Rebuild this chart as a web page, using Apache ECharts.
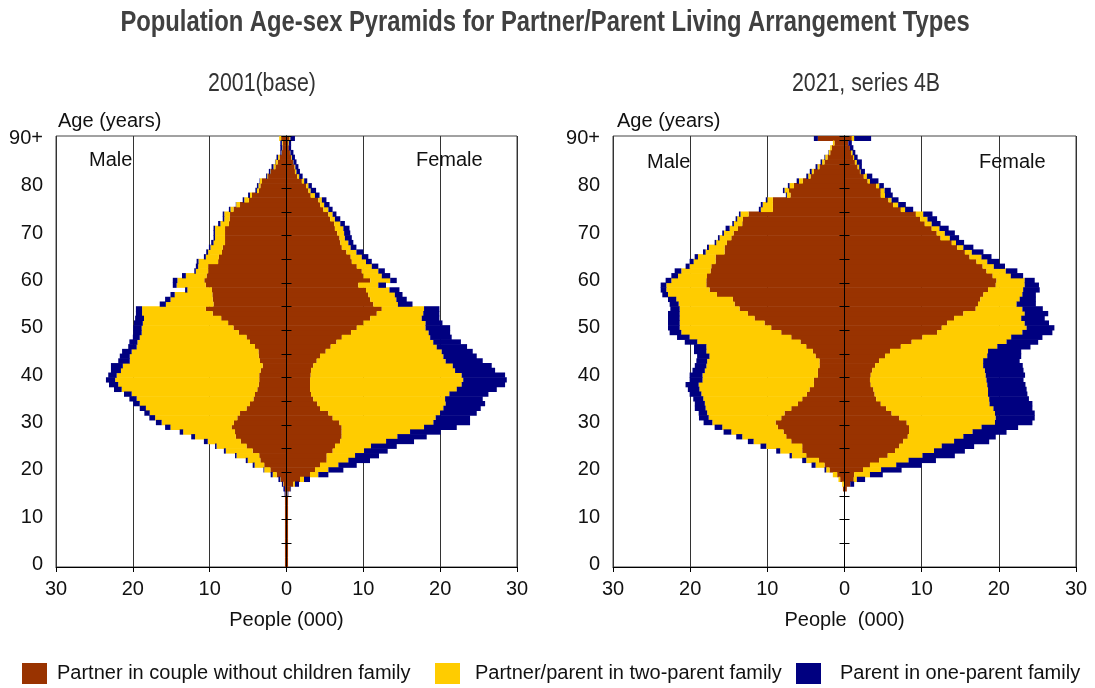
<!DOCTYPE html>
<html><head><meta charset="utf-8">
<script src="https://cdn.jsdelivr.net/npm/echarts@6/dist/echarts.min.js"></script>
<style>html,body{margin:0;padding:0;background:#fff}#c{width:1095px;height:688px}</style>
</head><body><div id="c"></div>
<script>
// ages 0..89, 90+
const ages = [];
for (let a = 0; a <= 90; a++) ages.push(a === 90 ? '90+' : String(a));
const seriesNames = ['Partner in couple without children family','Partner/parent in two-parent family','Parent in one-parent family'];
const colors = ['#993300','#FFCC00','#000080'];
const xTicks = [-30,-20,-10,0,10,20,30];

// 2001 (base) - Male, values in thousands, index = age
const m01Couple = [0.2,0.2,0.2,0.2,0.2,0.2,0.2,0.2,0.2,0.2,0.2,0.2,0.2,0.2,0.2,
 0.15,0.2,0.4,0.75,1.28,2.1,2.9,3.4,3.55,4.4,5.2,5.95,6.6,6.7,7.15,
 6.85,6.4,6.05,5.2,4.75,4.3,4.1,3.8,3.6,3.55,3.55,3.35,3.1,3.45,3.6,
 3.65,4.1,4.75,5.2,6.2,6.9,7.6,8.5,9.6,10.5,9.5,9.6,9.65,9.7,10.5,
 10.7,10.4,10.2,10.2,8.9,8.8,8.4,8.3,8.0,8.0,8.0,8.0,7.5,7.4,7.35,
 6.9,6.05,4.9,4.5,3.6,3.4,3.2,2.4,2.05,1.45,1.15,0.9,0.6,0.5,0.5,0.7];
const m01Two = [0,0,0,0,0,0,0,0,0,0,0,0,0,0,0,
 0,0,0.05,0.05,0.52,0.8,1.25,1.65,2.95,3.5,3.9,4.3,5.3,6.75,7.95,
 9.4,10.7,11.75,13.1,14.35,15.2,16.05,17.65,18.3,18.75,18.55,18.2,18.2,16.95,16.8,
 16.5,15.4,14.65,13.9,12.65,11.95,11.1,10.05,9.2,8.3,6.2,5.5,4.9,3.2,3.8,
 3.5,2.7,1.6,1.3,2.55,1.7,1.8,1.6,1.5,1.3,1.3,1.3,1.1,0.7,0.75,
 0.4,0.5,0.6,0.25,0.25,0.25,0.25,0.1,0.05,0.25,0.3,0.2,0.05,0.05,0.1,0.25];
const m01One = [0,0,0,0,0,0,0,0,0,0,0,0,0,0,0,
 0.1,0.2,0.15,0.25,0.26,0.1,0.25,0.25,0.2,0.25,0.2,0.5,0.5,0.45,0.7,
 0.75,0.75,0.7,0.8,0.85,0.95,1.0,1.0,1.2,1.2,1.1,1.3,1.55,1.5,1.3,
 1.25,1.1,1.05,0.9,1.1,1.1,1.15,1.15,0.8,0.8,0.8,0.7,0.55,0.3,0.5,
 0.6,0.5,0.2,0.3,0.25,0.25,0.25,0.2,0.3,0.2,0.2,0.2,0.3,0.2,0.2,
 0.2,0.05,0.2,0.25,0.2,0.2,0.05,0.15,0.2,0.25,0.05,0.2,0.15,0.25,0.2,0];

// 2001 (base) - Female
const f01Couple = [0.2,0.2,0.2,0.2,0.2,0.2,0.2,0.2,0.2,0.2,0.2,0.2,0.2,0.2,0.2,
 0.11,0.46,0.89,1.76,3.06,3.71,4.36,5.23,5.23,6.01,6.32,6.97,7.18,7.18,7.18,
 6.88,6.01,5.45,4.36,4.01,3.49,3.19,3.06,3.06,3.06,3.15,3.19,3.49,3.93,4.36,
 5.1,5.75,6.5,7.2,8.4,9.15,10.0,10.9,11.75,12.4,11.3,10.9,10.65,10.35,9.35,
 10.9,10.0,9.8,9.15,8.5,8.35,7.8,7.2,7.0,6.9,6.6,6.3,6.2,5.7,5.45,
 4.8,4.4,4.15,3.15,2.85,2.55,2.0,1.4,1.1,1.05,0.85,0.6,0.45,0.3,0.2,0.4];
const f01Two = [0,0,0,0,0,0,0,0,0,0,0,0,0,0,0,
 0.04,0.04,0.21,0.52,1.08,1.74,2.39,2.82,3.69,4.08,4.68,5.99,7.25,8.9,10.72,
 12.24,13.41,14.54,16.06,16.71,17.15,18.01,19.1,19.74,19.94,19.65,18.75,18.15,16.79,16.06,
 15.1,13.8,12.6,11.5,10.1,8.95,8.1,6.7,6.05,5.5,3.2,3.4,3.45,3.05,2.6,
 2.6,2.4,2.15,1.95,1.85,1.45,1.3,1.15,1.05,0.7,0.9,1.1,0.8,0.6,0.55,
 0.65,0.5,0.45,0.55,0.3,0.3,0.3,0.25,0.2,0.1,0.05,0.1,0.05,0,0.1,0.1];
const f01One = [0,0,0,0,0,0,0,0,0,0,0,0,0,0,0,
 0.09,0.09,0.53,0.78,1.31,1.95,2.39,2.82,3.12,3.08,3.35,3.64,3.82,3.99,4.26,
 4.77,4.47,4.77,4.86,5.13,4.9,5.08,5.21,5.65,5.67,5.65,5.21,5.07,4.82,4.34,
 4.04,3.95,3.6,2.8,2.8,3.2,2.2,2.3,2.1,2.0,1.9,1.35,1.0,1.3,1.0,
 0.85,1.1,0.85,0.85,0.75,0.85,0.9,0.75,0.65,0.9,0.8,0.8,0.6,0.7,0.5,
 0.55,0.7,0.6,0.6,0.7,0.45,0.4,0.45,0.45,0.4,0.4,0.4,0.4,0.3,0.3,0.6];

// 2021, series 4B - Male
const m21Couple = [0,0,0,0,0,0,0,0,0,0,0,0,0,0,0,
 0,0.2,0.09,0.56,0.95,1.94,2.59,3.32,4.96,5.48,5.48,6.9,7.55,7.9,8.63,
 8.93,8.2,7.77,6.9,6.04,5.48,4.88,4.53,3.97,3.97,3.45,3.45,3.24,3.24,3.75,
 4.1,4.96,5.7,6.9,8.2,9.5,10.36,11.65,12.52,13.6,14.24,14.46,16.53,17.48,17.91,
 17.91,17.82,17.35,17.26,16.7,16.7,15.54,15.54,15.24,14.67,14.37,13.81,13.25,13.16,12.43,
 9.28,9.28,9.28,7.0,7.2,6.56,5.4,4.4,4.0,3.25,2.6,2.2,1.85,1.65,1.3,3.45];
const m21Two = [0,0,0,0,0,0,0,0,0,0,0,0,0,0,0,
 0,0,0.21,0.22,0.56,0.43,1.16,1.64,1.86,2.85,4.66,4.88,5.7,6.77,7.21,
 8.2,9.4,10.03,11.1,12.06,12.82,13.67,14.27,14.93,14.43,14.95,14.65,14.66,14.56,13.75,
 13.8,12.94,13.38,13.17,12.95,11.86,11.0,9.71,8.84,7.76,7.25,7.34,6.34,5.61,5.18,
 4.53,3.76,3.8,2.81,2.85,2.29,2.46,2.03,1.38,1.51,1.25,1.08,1.08,0.74,1.04,
 1.57,1.32,0.72,0.47,0.57,0.56,0.5,0.3,0.25,0.25,0.3,0.3,0.2,0.2,0.2,0];
const m21One = [0,0,0,0,0,0,0,0,0,0,0,0,0,0,0,
 0,0,0,0,0,0.22,0.52,0.52,0.3,0.52,0.74,0.74,0.78,1.0,0.99,
 1.13,1.26,1.1,1.4,1.3,1.3,1.52,1.5,1.7,1.67,1.67,1.6,1.5,1.4,1.6,
 1.6,1.6,1.62,1.63,1.51,1.51,1.51,1.51,1.51,1.21,1.17,1.07,0.74,0.73,0.73,
 0.74,0.86,0.86,0.52,0.52,0.43,0.34,0.25,0.21,0.22,0.22,0.52,0.21,0.21,0.21,
 0.25,0.25,0.2,0.13,0.21,0.22,0.3,0.25,0.25,0.25,0.2,0.1,0.05,0,0,0.52];

// 2021, series 4B - Female
const f21Couple = [0,0,0,0,0,0,0,0,0,0,0,0,0,0,0,
 0,0.3,0.75,1.2,1.25,2.4,3.3,4.5,5.6,6.55,7.1,7.6,8.2,8.36,8.36,
 8.06,7.1,6.1,5.4,4.7,4.1,3.9,3.75,3.4,3.3,3.4,3.6,3.97,4.48,5.26,
 5.9,7.3,8.7,10.1,12.0,12.6,13.3,14.2,15.4,17.0,17.3,17.6,18.0,18.6,19.6,
 19.7,19.2,18.4,17.9,17.1,16.2,15.6,14.6,13.9,12.45,11.95,11.3,10.4,9.8,9.25,
 7.3,6.3,5.7,4.7,4.7,4.1,3.0,2.5,2.0,1.7,1.35,1.1,0.85,0.7,0.5,0.95];
const f21Two = [0,0,0,0,0,0,0,0,0,0,0,0,0,0,0,
 0,0,0,0.4,2.05,2.34,3.4,3.8,4.5,5.05,5.5,6.6,7.2,8.24,9.4,
 11.44,12.5,13.4,13.9,14.1,14.65,14.7,14.85,15.1,15.1,14.9,14.6,14.0,13.49,13.24,
 12.7,12.5,12.3,11.5,11.05,11.0,10.05,8.7,7.95,6.05,5.0,5.1,5.05,4.55,3.75,
 3.65,2.35,2.5,1.45,1.4,1.55,0.9,0.8,0.55,1.2,1.05,1.0,0.9,0.95,0.95,
 0.55,0.65,0.4,0.55,0.5,0.4,0.3,0.4,0.1,0.2,0.25,0.15,0.2,0,0,0.3];
const f21One = [0,0,0,0,0,0,0,0,0,0,0,0,0,0,0,
 0,0,0.5,1.07,1.66,2.66,3.3,3.55,4.2,4.0,4.2,4.55,4.2,4.4,4.74,
 4.85,5.05,5.15,5.05,5.55,5.15,5.1,5.0,4.95,4.8,5.1,5.0,5.13,4.73,4.4,
 4.3,4.3,4.1,4.05,3.89,3.6,3.15,3.05,3.05,2.65,2.5,2.1,1.75,2.15,1.85,
 1.3,1.6,1.5,1.45,1.55,1.3,1.5,1.3,1.05,1.2,1.3,1.2,1.15,1.25,1.2,
 1.05,1.0,0.9,1.0,0.8,0.6,1.1,0.7,0.55,0.35,0.65,0.45,0.35,0.45,0.45,2.2];

const FONT = '"Liberation Sans", Arial, sans-serif';

const grids = [
  {left: 56, top: 136, width: 461, height: 431},
  {left: 613, top: 136, width: 463, height: 431}
];

function xAxisFor(g, name) {
  return {
    type: 'value', gridIndex: g, min: xTicks[0], max: xTicks[xTicks.length-1], interval: 10,
    name: name, nameLocation: 'middle', nameGap: 43,
    nameTextStyle: {fontFamily: FONT, fontSize: 20, color: '#111'},
    axisLine: {show: true, onZero: false, lineStyle: {color: '#000', width: 1}},
    axisTick: {show: true, length: 5, lineStyle: {color: '#000'}},
    axisLabel: {fontFamily: FONT, fontSize: 20, color: '#111', margin: 12,
      formatter: v => String(Math.abs(v))},
    splitLine: {show: true, lineStyle: {color: '#333', width: 1}}
  };
}
function yAxesFor(g) {
  return [
    {type: 'category', gridIndex: g, data: ages, boundaryGap: true, position: 'left',
     axisLine: {show: false, onZero: false}, axisTick: {show: false},
     axisLabel: {interval: 9, fontFamily: FONT, fontSize: 20, color: '#111', margin: 13},
     splitLine: {show: false}},
    {type: 'category', gridIndex: g, data: ages, boundaryGap: true, z: 6, position: 'left',
     axisLine: {show: true, onZero: true, onZeroAxisIndex: g, lineStyle: {color: '#000', width: 1}},
     axisTick: {show: true, interval: 4, length: 5, lineStyle: {color: '#000'}},
     axisLabel: {show: false}, splitLine: {show: false}},
    {type: 'category', gridIndex: g, data: ages, boundaryGap: true, z: 6, position: 'left',
     axisLine: {show: true, onZero: true, onZeroAxisIndex: g, lineStyle: {color: '#000', width: 1}},
     axisTick: {show: true, inside: true, interval: 4, length: 5, lineStyle: {color: '#000'}},
     axisLabel: {show: false}, splitLine: {show: false}}
  ];
}
function barSeries(g, yIdx, stack, maleArrs, femaleArrs) {
  const out = [];
  const mk = (arr, i, sign) => ({
    name: seriesNames[i], type: 'bar', xAxisIndex: g, yAxisIndex: yIdx, stack: stack,
    data: arr.map(v => sign * v),
    itemStyle: {color: colors[i]},
    barWidth: '112%'
  });
  maleArrs.forEach((arr, i) => out.push(mk(arr, i, -1)));
  femaleArrs.forEach((arr, i) => out.push(mk(arr, i, 1)));
  return out;
}

function txt(x, y, text, font, align, color, sx) {
  return {type: 'text', x: x, y: y, z: 50, silent: true, scaleX: sx || 1,
    style: {text: text, font: font, textAlign: align || 'left', textVerticalAlign: 'middle', fill: color || '#111'}};
}

const legendDefs = [
  {left: 22, pad: 5},
  {left: 435, pad: 10},
  {left: 796, pad: 14}
];

const option = {
  animation: false,
  backgroundColor: '#fff',
  grid: grids.map(g => Object.assign({show: true, borderColor: '#444', borderWidth: 1, backgroundColor: 'transparent', containLabel: false}, g)),
  xAxis: [xAxisFor(0, 'People (000)'), xAxisFor(1, 'People  (000)')],
  yAxis: yAxesFor(0).concat(yAxesFor(1)),
  legend: legendDefs.map((d, i) => ({
    data: [seriesNames[i]], left: d.left, top: 663, padding: 0, itemWidth: 25, itemHeight: 21,
    icon: 'rect', selectedMode: false,
    textStyle: {fontFamily: FONT, fontSize: 20, color: '#111', padding: [0, 0, 0, d.pad]}
  })),
  series: barSeries(0, 0, 'left', [m01Couple, m01Two, m01One], [f01Couple, f01Two, f01One])
    .concat(barSeries(1, 3, 'right', [m21Couple, m21Two, m21One], [f21Couple, f21Two, f21One])),
  graphic: [
    txt(545, 23, 'Population Age-sex Pyramids for Partner/Parent Living Arrangement Types', 'bold 29px ' + FONT, 'center', '#404040', 0.82),
    txt(262, 84, '2001(base)', '26px ' + FONT, 'center', '#333', 0.82),
    txt(866, 84, '2021, series 4B', '26px ' + FONT, 'center', '#333', 0.82),
    txt(58, 121, 'Age (years)', '20px ' + FONT, 'left'),
    txt(617, 121, 'Age (years)', '20px ' + FONT, 'left'),
    txt(89, 160, 'Male', '20px ' + FONT, 'left'),
    txt(416, 160, 'Female', '20px ' + FONT, 'left'),
    txt(647, 162, 'Male', '20px ' + FONT, 'left'),
    txt(979, 162, 'Female', '20px ' + FONT, 'left')
  ]
};

const chart = echarts.init(document.getElementById('c'), null, {renderer: 'canvas'});
chart.setOption(option);
</script>
</body></html>
